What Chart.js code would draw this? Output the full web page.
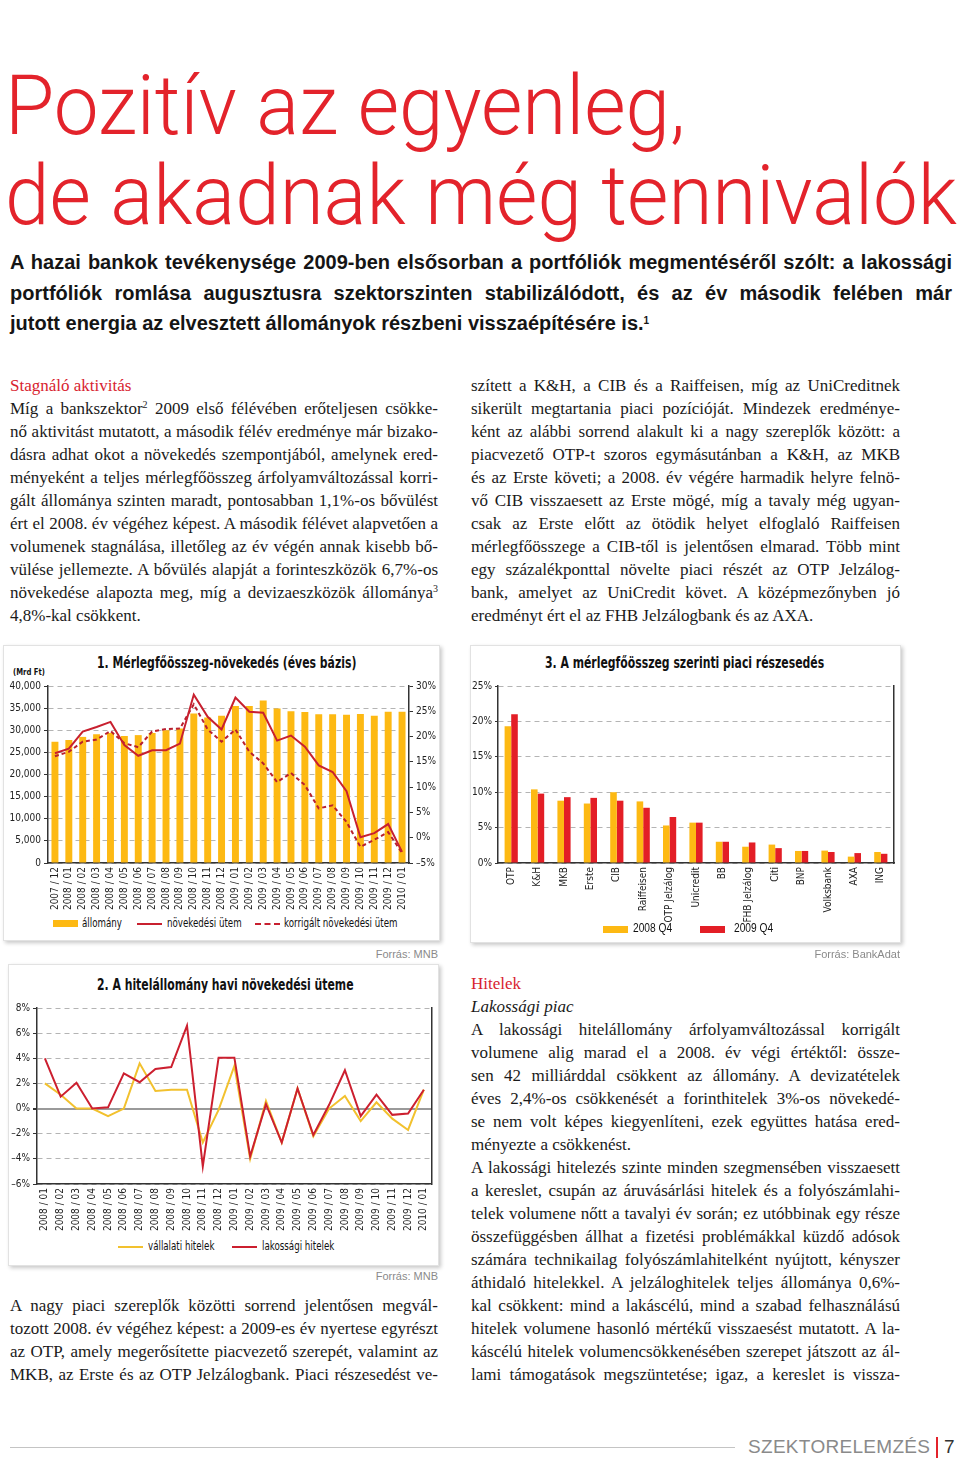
<!DOCTYPE html>
<html lang="hu">
<head>
<meta charset="utf-8">
<title>Pozitív az egyenleg, de akadnak még tennivalók</title>
<script src="https://cdn.jsdelivr.net/npm/chart.js@4.4.1/dist/chart.umd.min.js"></script>
<style>
  html, body { margin: 0; padding: 0; background: #fff; }
  body { width: 960px; height: 1460px; position: relative; overflow: hidden; }
  .abs { position: absolute; }
  .headline { position: absolute; left: 5px; font-family: 'Roboto', 'Open Sans', 'Liberation Sans', sans-serif;
    font-weight: 300; font-size: 84px; line-height: 84px; color: #e3232b; white-space: nowrap;
    transform-origin: 0 0; transform: scaleX(0.952); }
  .lead { position: absolute; left: 10px; width: 942px; font-family: 'Liberation Sans', Arial, sans-serif;
    font-weight: bold; font-size: 20px; line-height: 30.5px; color: #151515; }
  .col { position: absolute; font-family: 'Liberation Serif', 'Times New Roman', serif; font-size: 17px;
    line-height: 23px; color: #1a1a1a; }
  .l { text-align: justify; text-align-last: justify; }
  .e { text-align: left; }
  .red { color: #d8232f; }
  sup { font-size: 10px; line-height: 0; vertical-align: 6px; }
  .panel { position: absolute; background: #fff; border: 1px solid #e2e2e2; box-shadow: 2px 2px 4px rgba(0,0,0,0.22); }
  .cond { font-family: 'Liberation Sans Narrow', 'DejaVu Sans Condensed', 'Arial Narrow', sans-serif; }
  .ctitle { position: absolute; font-weight: bold; font-size: 15px; color: #111; white-space: nowrap;
    transform-origin: 0 0; transform: scaleX(0.805); }
  .sw { position: absolute; width: 25px; }
  .lt { position: absolute; font-size: 11.5px; line-height: 13px; color: #111; white-space: nowrap;
    transform-origin: 0 0; transform: scaleX(0.84); }
  .src { position: absolute; font-family: 'Liberation Sans', Arial, sans-serif; font-size: 11px; color: #8a8a8a; white-space: nowrap; }
  canvas { position: absolute; }
</style>
</head>
<body>

<div class="headline" style="top:64px">Pozitív az egyenleg,</div>
<div class="headline" style="top:154px">de akadnak még tennivalók</div>

<div class="lead" style="top:247px">
  <div class="l">A hazai bankok tevékenysége 2009-ben elsősorban a portfóliók megmentéséről szólt: a lakossági</div>
  <div class="l">portfóliók romlása augusztusra szektorszinten stabilizálódott, és az év második felében már</div>
  <div class="e">jutott energia az elvesztett állományok részbeni visszaépítésére is.<sup>1</sup></div>
</div>

<div class="col" style="left:10px; top:374px; width:428px">
  <div class="e red">Stagnáló aktivitás</div>
  <div class="l">Míg a bankszektor<sup>2</sup> 2009 első félévében erőteljesen csökke-</div>
  <div class="l">nő aktivitást mutatott, a második félév eredménye már bizako-</div>
  <div class="l">dásra adhat okot a növekedés szempontjából, amelynek ered-</div>
  <div class="l">ményeként a teljes mérlegfőösszeg árfolyamváltozással korri-</div>
  <div class="l">gált állománya szinten maradt, pontosabban 1,1%-os bővülést</div>
  <div class="l">ért el 2008. év végéhez képest. A második félévet alapvetően a</div>
  <div class="l">volumenek stagnálása, illetőleg az év végén annak kisebb bő-</div>
  <div class="l">vülése jellemezte. A bővülés alapját a forinteszközök 6,7%-os</div>
  <div class="l">növekedése alapozta meg, míg a devizaeszközök állománya<sup>3</sup></div>
  <div class="e">4,8%-kal csökkent.</div>
</div>

<div class="col" style="left:471px; top:374px; width:429px">
  <div class="l">szített a K&amp;H, a CIB és a Raiffeisen, míg az UniCreditnek</div>
  <div class="l">sikerült megtartania piaci pozícióját. Mindezek eredménye-</div>
  <div class="l">ként az alábbi sorrend alakult ki a nagy szereplők között: a</div>
  <div class="l">piacvezető OTP-t szoros egymásutánban a K&amp;H, az MKB</div>
  <div class="l">és az Erste követi; a 2008. év végére harmadik helyre felnö-</div>
  <div class="l">vő CIB visszaesett az Erste mögé, míg a tavaly még ugyan-</div>
  <div class="l">csak az Erste előtt az ötödik helyet elfoglaló Raiffeisen</div>
  <div class="l">mérlegfőösszege a CIB-től is jelentősen elmarad. Több mint</div>
  <div class="l">egy százalékponttal növelte piaci részét az OTP Jelzálog-</div>
  <div class="l">bank, amelyet az UniCredit követ. A középmezőnyben jó</div>
  <div class="e">eredményt ért el az FHB Jelzálogbank és az AXA.</div>
</div>

<!-- chart panels -->
<div class="panel" style="left:3px; top:645px; width:435px; height:294px"></div>
<div class="panel" style="left:470px; top:645px; width:429px; height:296px"></div>
<div class="panel" style="left:8px; top:964px; width:429px; height:300px"></div>

<div class="ctitle cond" style="left:97px; top:654px">1. Mérlegfőösszeg-növekedés (éves bázis)</div>
<div class="abs cond" style="left:13px; top:667px; font-weight:bold; font-size:9px; color:#111; transform-origin:0 0; transform:scaleX(0.85)">(Mrd Ft)</div>
<canvas id="chart1" width="440" height="240" style="left:0; top:676px"></canvas>
<div class="sw" style="left:53px; top:920px; height:7px; background:#fdb913"></div>
<div class="lt cond" style="left:82px; top:917px">állomány</div>
<div class="sw" style="left:137px; top:923px; border-top:2px solid #c8202f"></div>
<div class="lt cond" style="left:167px; top:917px">növekedési ütem</div>
<div class="sw" style="left:255px; top:923px; border-top:2px dashed #c8202f"></div>
<div class="lt cond" style="left:284px; top:917px">korrigált növekedési ütem</div>
<div class="src" style="right:522px; top:948px">Forrás: MNB</div>

<div class="ctitle cond" style="left:545px; top:654px">3. A mérlegfőösszeg szerinti piaci részesedés</div>
<canvas id="chart3" width="430" height="250" style="left:470px; top:676px"></canvas>
<div class="sw" style="left:603px; top:926px; height:7px; background:#fdb913"></div>
<div class="lt" style="left:633px; top:922px; font-family:'Liberation Sans',Arial,sans-serif; font-size:12px; transform:scaleX(0.85)">2008 Q4</div>
<div class="sw" style="left:700px; top:926px; height:7px; background:#e31e26"></div>
<div class="lt" style="left:734px; top:922px; font-family:'Liberation Sans',Arial,sans-serif; font-size:12px; transform:scaleX(0.85)">2009 Q4</div>
<div class="src" style="right:60px; top:948px">Forrás: BankAdat</div>

<div class="ctitle cond" style="left:97px; top:976px">2. A hitelállomány havi növekedési üteme</div>
<canvas id="chart2" width="440" height="237" style="left:0; top:998px"></canvas>
<div class="sw" style="left:118px; top:1246px; border-top:2px solid #f2c12e"></div>
<div class="lt cond" style="left:148px; top:1240px">vállalati hitelek</div>
<div class="sw" style="left:232px; top:1246px; border-top:2px solid #cc1f2f"></div>
<div class="lt cond" style="left:262px; top:1240px">lakossági hitelek</div>
<div class="src" style="right:522px; top:1270px">Forrás: MNB</div>

<div class="col" style="left:10px; top:1294px; width:428px">
  <div class="l">A nagy piaci szereplők közötti sorrend jelentősen megvál-</div>
  <div class="l">tozott 2008. év végéhez képest: a 2009-es év nyertese egyrészt</div>
  <div class="l">az OTP, amely megerősítette piacvezető szerepét, valamint az</div>
  <div class="l">MKB, az Erste és az OTP Jelzálogbank. Piaci részesedést ve-</div>
</div>

<div class="col" style="left:471px; top:972px; width:429px">
  <div class="e red">Hitelek</div>
  <div class="e"><i>Lakossági piac</i></div>
  <div class="l">A lakossági hitelállomány árfolyamváltozással korrigált</div>
  <div class="l">volumene alig marad el a 2008. év végi értéktől: össze-</div>
  <div class="l">sen 42 milliárddal csökkent az állomány. A devizatételek</div>
  <div class="l">éves 2,4%-os csökkenését a forinthitelek 3%-os növekedé-</div>
  <div class="l">se nem volt képes kiegyenlíteni, ezek együttes hatása ered-</div>
  <div class="e">ményezte a csökkenést.</div>
  <div class="l">A lakossági hitelezés szinte minden szegmensében visszaesett</div>
  <div class="l">a kereslet, csupán az áruvásárlási hitelek és a folyószámlahi-</div>
  <div class="l">telek volumene nőtt a tavalyi év során; ez utóbbinak egy része</div>
  <div class="l">összefüggésben állhat a fizetési problémákkal küzdő adósok</div>
  <div class="l">számára technikailag folyószámlahitelként nyújtott, kényszer</div>
  <div class="l">áthidaló hitelekkel. A jelzáloghitelek teljes állománya 0,6%-</div>
  <div class="l">kal csökkent: mind a lakáscélú, mind a szabad felhasználású</div>
  <div class="l">hitelek volumene hasonló mértékű visszaesést mutatott. A la-</div>
  <div class="l">káscélú hitelek volumencsökkenésében szerepet játszott az ál-</div>
  <div class="l">lami támogatások megszüntetése; igaz, a kereslet is vissza-</div>
</div>

<!-- footer -->
<div class="abs" style="left:10px; top:1447px; width:725px; height:1px; background:#c4c4c4"></div>
<div class="abs" style="left:748px; top:1436px; font:19px 'Liberation Sans',Arial,sans-serif; color:#8a8a8a; letter-spacing:0.3px">SZEKTORELEMZÉS</div>
<div class="abs" style="left:936px; top:1437px; width:2px; height:21px; background:#e3232b"></div>
<div class="abs" style="left:944px; top:1436px; font:19px 'Liberation Sans',Arial,sans-serif; color:#333">7</div>

<script>
// 1. chart: balance sheet total (Mrd Ft) and yearly growth (%)
const months1 = ['2007 / 12', '2008 / 01', '2008 / 02', '2008 / 03', '2008 / 04', '2008 / 05', '2008 / 06',
  '2008 / 07', '2008 / 08', '2008 / 09', '2008 / 10', '2008 / 11', '2008 / 12', '2009 / 01', '2009 / 02',
  '2009 / 03', '2009 / 04', '2009 / 05', '2009 / 06', '2009 / 07', '2009 / 08', '2009 / 09', '2009 / 10',
  '2009 / 11', '2009 / 12', '2010 / 01'];
const allomany = [27400, 27800, 28500, 29100, 29400, 28700, 28900, 29400, 30000, 30400, 33800, 32900, 33300,
  35500, 35500, 36700, 34900, 34300, 34100, 33600, 33600, 33500, 33700, 33300, 34200, 34200];
const novekedes = [16.7, 17.6, 21.0, 21.9, 22.9, 18.3, 16.2, 17.3, 17.3, 18.6, 28.3, 23.9, 21.4,
  27.7, 24.9, 24.7, 19.2, 20.2, 18.0, 14.3, 13.0, 9.2, 0.1, 0.9, 2.7, -2.8];
const korrigalt = [16.1, 17.0, 19.0, 19.4, 21.1, 18.7, 17.9, 21.0, 21.5, 21.6, 26.4, 21.4, 19.0,
  21.4, 17.0, 14.7, 11.0, 12.8, 10.4, 5.8, 6.4, 3.1, -1.8, -0.4, 1.1, -3.0];

// 2. chart: monthly growth of loans (%)
const months2 = ['2008 / 01', '2008 / 02', '2008 / 03', '2008 / 04', '2008 / 05', '2008 / 06', '2008 / 07',
  '2008 / 08', '2008 / 09', '2008 / 10', '2008 / 11', '2008 / 12', '2009 / 01', '2009 / 02', '2009 / 03',
  '2009 / 04', '2009 / 05', '2009 / 06', '2009 / 07', '2009 / 08', '2009 / 09', '2009 / 10', '2009 / 11',
  '2009 / 12', '2010 / 01'];
const vallalati = [2.0, 1.1, 0.0, 0.0, -0.6, 0.0, 3.6, 1.4, 1.5, 1.5, -2.7, -0.1, 3.4,
  -4.0, 0.6, -2.7, 1.6, -2.2, 0.0, 1.0, -1.0, 0.5, -0.8, -1.7, 1.5];
const lakossagi = [4.0, 0.95, 2.05, 0.0, 0.1, 2.8, 2.1, 3.15, 3.3, 6.6, -4.6, 4.05, 4.05,
  -3.8, 0.35, -2.7, 1.6, -2.1, 0.3, 3.05, -0.6, 1.1, -0.5, -0.4, 1.5];

// 3. chart: market share by balance sheet total (%)
const banks = ['OTP', 'K&H', 'MKB', 'Erste', 'CIB', 'Raiffeisen', 'OTP Jelzálog', 'Unicredit', 'BB',
  'FHB Jelzálog', 'Citi', 'BNP', 'Volksbank', 'AXA', 'ING'];
const share2008 = [19.3, 10.4, 8.8, 8.4, 10.0, 8.7, 5.3, 5.7, 3.0, 2.3, 2.6, 1.7, 1.75, 0.9, 1.55];
const share2009 = [21.0, 9.8, 9.3, 9.2, 8.8, 7.8, 6.5, 5.7, 3.0, 2.9, 2.1, 1.7, 1.55, 1.4, 1.3];

const NARROW = "'Liberation Sans Narrow', 'DejaVu Sans Condensed', 'Arial Narrow', sans-serif";
const YELLOW = '#fdb913';
const AXIS = '#333';
const GRID = '#b4b4b4';
const tickFont = { family: NARROW, size: 10 };
const pct = v => (v < 0 ? '\u2013' + (-v) : v) + '%';

Chart.defaults.animation = false;
Chart.defaults.responsive = false;
Chart.defaults.color = '#222';
Chart.defaults.plugins.legend.display = false;
Chart.defaults.plugins.tooltip.enabled = false;

function xAxis(h) {
  return {
    grid: { display: false, drawTicks: false },
    border: { display: true, color: AXIS, width: 1.5 },
    ticks: { font: tickFont, minRotation: 90, maxRotation: 90, autoSkip: false, padding: 4 },
    afterFit: s => { s.height = h; }
  };
}

new Chart(document.getElementById('chart1'), {
  data: {
    labels: months1,
    datasets: [
      { type: 'line', label: 'növekedési ütem', data: novekedes, yAxisID: 'y1', borderColor: '#c8202f',
        borderWidth: 2, pointRadius: 0, tension: 0, order: 0 },
      { type: 'line', label: 'korrigált növekedési ütem', data: korrigalt, yAxisID: 'y1', borderColor: '#b91f2e',
        borderWidth: 2, borderDash: [4, 3], pointRadius: 0, tension: 0, order: 1 },
      { type: 'bar', label: 'állomány', data: allomany, yAxisID: 'y', backgroundColor: YELLOW,
        barPercentage: 0.5, categoryPercentage: 1, order: 2 }
    ]
  },
  options: {
    layout: { padding: { top: 10 } },
    scales: {
      x: xAxis(53),
      y: {
        position: 'left', min: 0, max: 40000,
        ticks: { stepSize: 5000, font: tickFont, padding: 3, callback: v => v.toLocaleString('en-US') },
        grid: { color: GRID, tickLength: 4, tickColor: AXIS },
        border: { display: true, color: AXIS, width: 1.5, dash: [5, 4] },
        afterFit: s => { s.width = 48; }
      },
      y1: {
        position: 'right', min: -5, max: 30,
        ticks: { stepSize: 5, font: tickFont, padding: 3, callback: pct },
        grid: { drawOnChartArea: false, tickLength: 4, tickColor: AXIS },
        border: { display: true, color: AXIS, width: 1.5 },
        afterFit: s => { s.width = 31; }
      }
    }
  }
});

new Chart(document.getElementById('chart2'), {
  type: 'line',
  data: {
    labels: months2,
    datasets: [
      { label: 'lakossági hitelek', data: lakossagi, borderColor: '#cc1f2f', borderWidth: 2, pointRadius: 0, tension: 0 },
      { label: 'vállalati hitelek', data: vallalati, borderColor: '#f2c12e', borderWidth: 2, pointRadius: 0, tension: 0 }
    ]
  },
  options: {
    layout: { padding: { top: 10 } },
    scales: {
      x: Object.assign(xAxis(51), { offset: true }),
      y: {
        position: 'left', min: -6, max: 8,
        ticks: { stepSize: 2, font: tickFont, padding: 3, callback: pct },
        grid: {
          color: c => (c.tick && c.tick.value === 0 ? '#9a9a9a' : GRID),
          lineWidth: c => (c.tick && c.tick.value === 0 ? 2 : 1),
          tickLength: 4, tickColor: AXIS
        },
        border: { display: true, color: AXIS, width: 1.5, dash: c => (c.tick && c.tick.value === 0 ? [] : [5, 4]) },
        afterFit: s => { s.width = 37; }
      },
      y2: {
        position: 'right', min: 0, max: 1,
        ticks: { display: false },
        grid: { drawOnChartArea: false, drawTicks: false },
        border: { display: true, color: AXIS, width: 1.5 },
        afterFit: s => { s.width = 7; }
      }
    }
  }
});

new Chart(document.getElementById('chart3'), {
  type: 'bar',
  data: {
    labels: banks,
    datasets: [
      { label: '2008 Q4', data: share2008, backgroundColor: YELLOW, barPercentage: 1, categoryPercentage: 0.5 },
      { label: '2009 Q4', data: share2009, backgroundColor: '#e31e26', barPercentage: 1, categoryPercentage: 0.5 }
    ]
  },
  options: {
    layout: { padding: { top: 10 } },
    scales: {
      x: xAxis(63),
      y: {
        position: 'left', min: 0, max: 25,
        ticks: { stepSize: 5, font: tickFont, padding: 3, callback: pct },
        grid: { color: GRID, tickLength: 3, tickColor: AXIS },
        border: { display: true, color: AXIS, width: 1.5, dash: [5, 4] },
        afterFit: s => { s.width = 28; }
      },
      y2: {
        position: 'right', min: 0, max: 1,
        ticks: { display: false },
        grid: { drawOnChartArea: false, drawTicks: false },
        border: { display: true, color: AXIS, width: 1.5 },
        afterFit: s => { s.width = 6; }
      }
    }
  }
});
</script>
</body>
</html>
